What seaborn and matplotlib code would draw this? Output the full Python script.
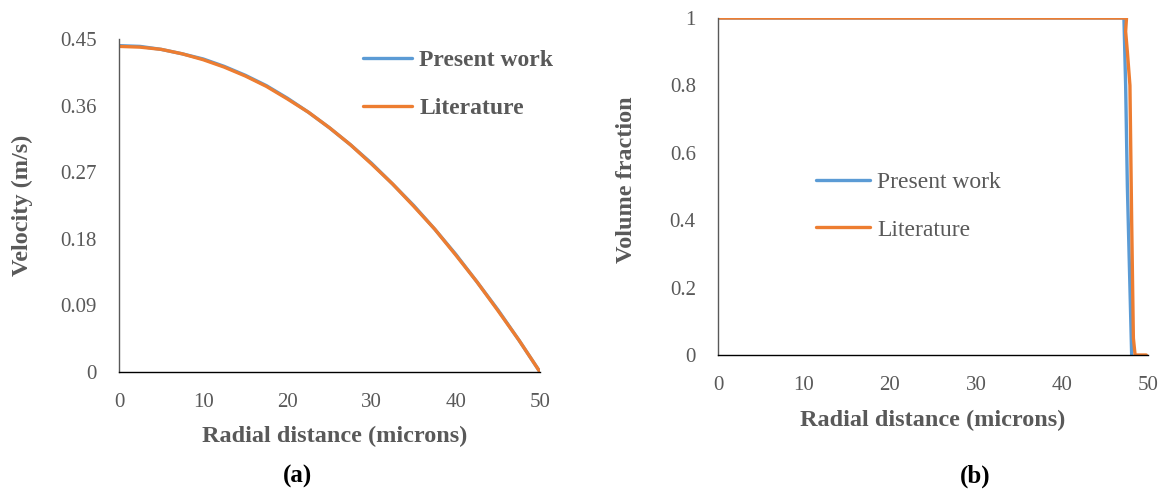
import numpy as np
import pandas as pd
import matplotlib
matplotlib.use("Agg")
import matplotlib.pyplot as plt
import seaborn as sns

# ---- data: panel (a) velocity profile ----
r_a = [0, 2.5, 5, 7.5, 10, 12.5, 15, 17.5, 20, 22.5, 25, 27.5, 30, 32.5, 35, 37.5, 40, 42.5, 45, 47.5, 50]
vel_present = [0.441, 0.440, 0.436, 0.430, 0.423, 0.413, 0.401, 0.387, 0.370, 0.351, 0.330, 0.307, 0.282, 0.254, 0.225, 0.193, 0.159, 0.122, 0.084, 0.043, 0.0]
vel_lit = [0.440, 0.439, 0.436, 0.430, 0.422, 0.412, 0.400, 0.386, 0.369, 0.351, 0.330, 0.307, 0.281, 0.254, 0.224, 0.193, 0.158, 0.122, 0.083, 0.043, 0.0]

# ---- data: panel (b) volume fraction ----
r_b_present = [0, 47.2, 47.4, 47.6, 47.9, 48.1]
vf_present = [1, 1, 0.8, 0.5, 0.2, 0]
r_b_lit = [0, 47.5, 47.4, 47.6, 47.9, 48.1, 48.3, 48.5, 49.8]
vf_lit = [1, 1, 0.96, 0.9, 0.8, 0.4, 0.05, 0, 0]

series_names = ["Present work", "Literature"]
palette = {"Present work": "#5B9BD5", "Literature": "#ED7D31"}

df_a = pd.DataFrame({
    "r": r_a + r_a,
    "v": vel_present + vel_lit,
    "series": [series_names[0]] * len(r_a) + [series_names[1]] * len(r_a),
})
df_b = pd.DataFrame({
    "r": r_b_present + r_b_lit,
    "v": vf_present + vf_lit,
    "series": [series_names[0]] * len(r_b_present) + [series_names[1]] * len(r_b_lit),
})

sns.set_theme(style="white")
plt.rcParams['font.family'] = ['Liberation Serif', 'DejaVu Serif']

gray = "#595959"
fig = plt.figure(figsize=(11.63, 4.90), dpi=100)
ax1 = fig.add_axes([119 / 1163, 1 - 372 / 490, (540 - 119) / 1163, (372 - 39) / 490])
ax2 = fig.add_axes([718 / 1163, 1 - 355 / 490, (1148 - 718) / 1163, (355 - 18) / 490])

sns.lineplot(data=df_a, x="r", y="v", hue="series", palette=palette, ax=ax1,
             linewidth=2.4, sort=False, estimator=None)
sns.lineplot(data=df_b, x="r", y="v", hue="series", palette=palette, ax=ax2,
             linewidth=2.4, sort=False, estimator=None)

for ax in (ax1, ax2):
    for s in ("top", "right"):
        ax.spines[s].set_visible(False)
    ax.spines["left"].set_color(gray)
    ax.spines["bottom"].set_color("black")
    ax.spines["left"].set_linewidth(1.0)
    ax.spines["bottom"].set_linewidth(1.0)
    ax.tick_params(axis="both", length=0, labelsize=15, colors=gray)
    ax.tick_params(axis="x", pad=15)
    ax.tick_params(axis="y", pad=16)
    ax.set_xlim(0, 50)
    ax.set_xticks([0, 10, 20, 30, 40, 50])

ax1.set_ylim(0, 0.45)
ax1.set_yticks([0, 0.09, 0.18, 0.27, 0.36, 0.45])
ax1.set_yticklabels(["0", "0.09", "0.18", "0.27", "0.36", "0.45"])
ax2.set_ylim(0, 1)
ax2.set_yticks([0, 0.2, 0.4, 0.6, 0.8, 1])
ax2.set_yticklabels(["0", "0.2", "0.4", "0.6", "0.8", "1"])

lab_kw = dict(fontsize=17.5, fontweight="bold", color=gray)
ax1.set_xlabel("Radial distance (microns)", va="center", **lab_kw)
ax1.xaxis.set_label_coords(0.513, -0.195)
ax1.set_ylabel("Velocity (m/s)", va="center", **lab_kw)
ax1.yaxis.set_label_coords(-0.230, 0.50)
ax2.set_xlabel("Radial distance (microns)", va="center", **lab_kw)
ax2.xaxis.set_label_coords(0.50, -0.193)
ax2.set_ylabel("Volume fraction", va="center", **lab_kw)
ax2.yaxis.set_label_coords(-0.212, 0.52)

leg1 = ax1.legend(loc="upper left", bbox_to_anchor=(0.551, 1.003), frameon=False,
                  borderpad=0, handlelength=2.1, handletextpad=0.3, labelspacing=1.1,
                  prop={"weight": "bold", "size": 17})
for t in leg1.get_texts():
    t.set_color(gray)
leg2 = ax2.legend(loc="upper left", bbox_to_anchor=(0.200, 0.579), frameon=False,
                  borderpad=0, handlelength=2.3, handletextpad=0.3, labelspacing=1.1,
                  prop={"size": 17})
for t in leg2.get_texts():
    t.set_color(gray)

fig.text(297 / 1163, 1 - 476 / 490, "(a)", ha="center", va="center", fontsize=18, fontweight="bold", color="black")
fig.text(975 / 1163, 1 - 476 / 490, "(b)", ha="center", va="center", fontsize=18, fontweight="bold", color="black")

fig.savefig("out.png", dpi=100)
